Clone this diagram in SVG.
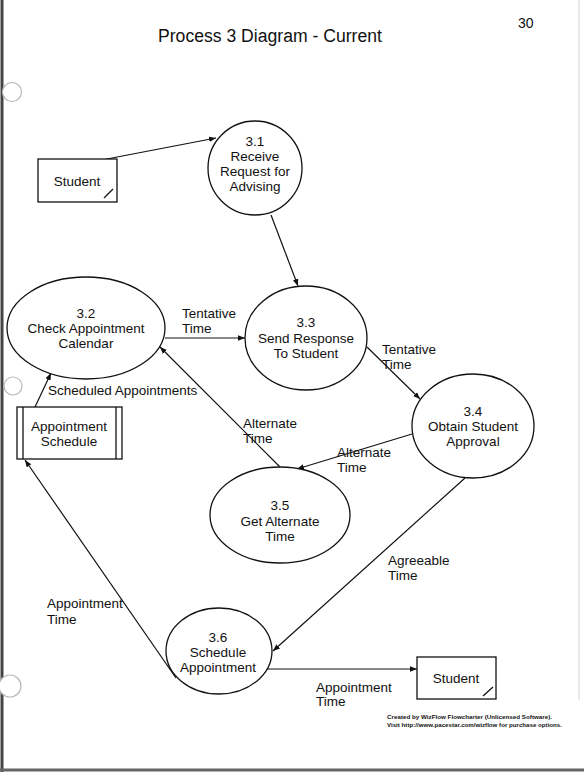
<svg xmlns="http://www.w3.org/2000/svg" width="584" height="772" viewBox="0 0 584 772">
<defs>
<style>
text{font-family:"Liberation Sans",Arial,sans-serif;font-size:13.5px;fill:#111}
.c{text-anchor:middle}
.shape{fill:#fff;stroke:#111;stroke-width:1.3}
.edge{stroke:#111;stroke-width:1.2;fill:none;marker-end:url(#ah)}
.hole{fill:#fff;stroke:#b8b8b8;stroke-width:1.2}
.wm{font-size:6px;font-weight:bold}
</style>
<marker id="ah" viewBox="0 0 10 10" refX="10" refY="5" markerWidth="7" markerHeight="7" markerUnits="userSpaceOnUse" orient="auto">
<path d="M0,1 L10,5 L0,9 Z" fill="#111"/>
</marker>
</defs>
<rect width="584" height="772" fill="#fff"/>
<g id="page">
<line x1="2" y1="0" x2="2" y2="772" stroke="#444" stroke-width="3"/>
<line x1="0" y1="770" x2="584" y2="770" stroke="#666" stroke-width="3"/>
<line x1="579" y1="0" x2="579" y2="700" stroke="#e2e2e2" stroke-width="1.5"/>
<circle class="hole" cx="12" cy="92" r="9.5"/>
<circle class="hole" cx="13" cy="386" r="9"/>
<circle class="hole" cx="10" cy="686" r="11"/>
<text x="158" y="42" style="font-size:17.6px">Process 3 Diagram - Current</text>
<text x="518" y="28" style="font-size:14px">30</text>
</g>
<g id="connectors">
<line class="edge" x1="86" y1="163" x2="216" y2="138"/>
<line class="edge" x1="271" y1="215" x2="298" y2="286"/>
<line class="edge" x1="165" y1="338" x2="245" y2="338"/>
<line class="edge" x1="367" y1="347" x2="420" y2="399"/>
<line class="edge" x1="412" y1="434" x2="297" y2="469"/>
<line class="edge" x1="280" y1="467" x2="160" y2="347"/>
<line class="edge" x1="35" y1="407" x2="51" y2="373"/>
<line class="edge" x1="176" y1="678" x2="25" y2="460"/>
<line class="edge" x1="465" y1="478" x2="273" y2="651"/>
<line class="edge" x1="263" y1="669" x2="417" y2="669"/>
<text x="182" y="318">Tentative</text>
<text x="182" y="333">Time</text>
<text x="382" y="354">Tentative</text>
<text x="382" y="369">Time</text>
<text x="243" y="428">Alternate</text>
<text x="243" y="443">Time</text>
<text x="337" y="457">Alternate</text>
<text x="337" y="472">Time</text>
<text x="48" y="395">Scheduled Appointments</text>
<text x="388" y="565">Agreeable</text>
<text x="388" y="580">Time</text>
<text x="47" y="608">Appointment</text>
<text x="47" y="624">Time</text>
<text x="316" y="692">Appointment</text>
<text x="316" y="706">Time</text>
</g>
<g id="student-source">
<rect class="shape" x="38" y="159" width="79" height="43"/>
<line x1="104" y1="198" x2="113" y2="189" stroke="#111" stroke-width="1.3"/>
<text class="c" x="77" y="186">Student</text>
</g>
<g id="p3-1">
<circle class="shape" cx="255" cy="168" r="47"/>
<text class="c" x="255" y="146">3.1</text>
<text class="c" x="255" y="161">Receive</text>
<text class="c" x="255" y="176">Request for</text>
<text class="c" x="255" y="191">Advising</text>
</g>
<g id="p3-2">
<ellipse class="shape" cx="86" cy="328" rx="79" ry="51"/>
<text class="c" x="86" y="318">3.2</text>
<text class="c" x="86" y="333">Check Appointment</text>
<text class="c" x="86" y="348">Calendar</text>
</g>
<g id="p3-3">
<ellipse class="shape" cx="306" cy="338" rx="61" ry="52"/>
<text class="c" x="306" y="327">3.3</text>
<text class="c" x="306" y="343">Send Response</text>
<text class="c" x="306" y="358">To Student</text>
</g>
<g id="p3-4">
<ellipse class="shape" cx="473" cy="426" rx="61" ry="52"/>
<text class="c" x="473" y="416">3.4</text>
<text class="c" x="473" y="431">Obtain Student</text>
<text class="c" x="473" y="446">Approval</text>
</g>
<g id="p3-5">
<ellipse class="shape" cx="280" cy="515" rx="70" ry="48"/>
<text class="c" x="280" y="510">3.5</text>
<text class="c" x="280" y="526">Get Alternate</text>
<text class="c" x="280" y="541">Time</text>
</g>
<g id="appointment-schedule">
<rect class="shape" x="17" y="407" width="105" height="52"/>
<line x1="23" y1="407" x2="23" y2="459" stroke="#111" stroke-width="1.3"/>
<line x1="116" y1="407" x2="116" y2="459" stroke="#111" stroke-width="1.3"/>
<text class="c" x="69" y="431">Appointment</text>
<text class="c" x="69" y="446">Schedule</text>
</g>
<g id="p3-6">
<ellipse class="shape" cx="219" cy="651" rx="53" ry="43"/>
<text class="c" x="218" y="642">3.6</text>
<text class="c" x="218" y="657">Schedule</text>
<text class="c" x="218" y="672">Appointment</text>
</g>
<g id="student-sink">
<rect class="shape" x="417" y="657" width="79" height="42"/>
<line x1="483" y1="696" x2="493" y2="687" stroke="#111" stroke-width="1.3"/>
<text class="c" x="456" y="683">Student</text>
</g>
<g id="watermark">
<text class="wm" x="387" y="719" textLength="165" lengthAdjust="spacingAndGlyphs">Created by WizFlow Flowcharter (Unlicensed Software).</text>
<text class="wm" x="387" y="727" textLength="175" lengthAdjust="spacingAndGlyphs">Visit http://www.pacestar.com/wizflow for purchase options.</text>
</g>
</svg>
